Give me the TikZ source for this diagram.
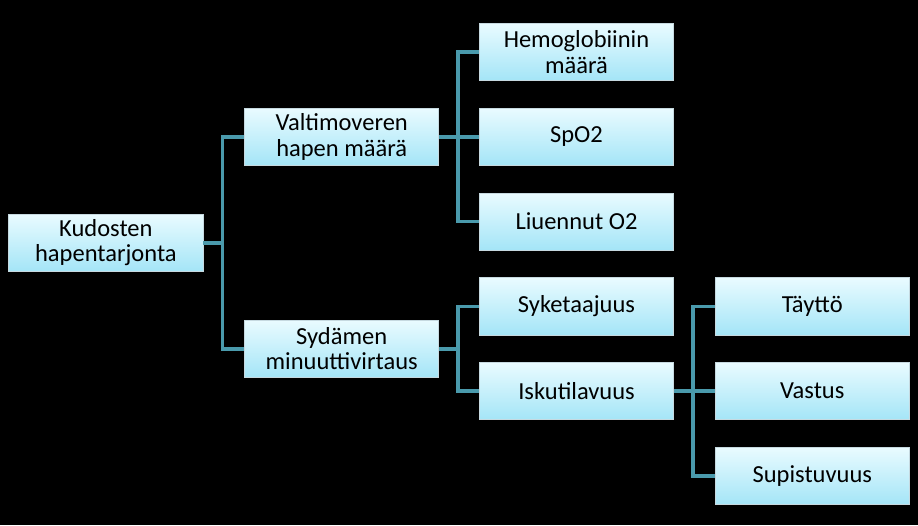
\documentclass[tikz,border=0pt]{standalone}
\usepackage{fontspec}
\setmainfont{Carlito}
\usepackage{xcolor}
\usetikzlibrary{positioning,calc}
\definecolor{boxtop}{HTML}{E9FBFF}
\definecolor{boxbot}{HTML}{A4E5F7}
\definecolor{boxline}{HTML}{C6D9E0}
\definecolor{linkcol}{HTML}{4A9AAC}

\begin{document}
\begin{tikzpicture}[
  x=1pt,y=1pt,
  node distance=26.8pt and 39.8pt,
  box/.style={draw=boxline,line width=0.8pt,top color=boxtop,bottom color=boxbot,
    minimum width=194.2pt,minimum height=57.2pt,inner sep=2pt,align=center,
    font=\fontsize{24.5}{25.5}\selectfont},
  link/.style={draw=linkcol,line width=3.6pt}
]
  \fill[black] (0,0) rectangle (918,-525);
  \useasboundingbox (0,0) rectangle (918,-525);
  % middle column
  \node[box] (hemo) at (576.5,-52) {Hemoglobiinin\\määrä};
  \node[box,below=of hemo] (spo) {SpO2};
  \node[box,below=of spo] (liu) {Liuennut O2};
  \node[box,below=of liu] (syke) {Syketaajuus};
  \node[box,below=of syke] (isku) {Iskutilavuus};
  % left columns
  \node[box,left=of spo] (valt) {Valtimoveren\\hapen määrä};
  \node[box,left=of $(syke.west)!0.5!(isku.west)$] (syd) {Sydämen\\minuuttivirtaus};
  \node[box,left=40.8pt of $(valt.west)!0.5!(syd.west)$] (kud) {Kudosten\\hapentarjonta};
  % right column
  \node[box,right=40.8pt of syke] (tayt) {Täyttö};
  \node[box,right=40.8pt of isku] (vast) {Vastus};
  \node[box,below=of vast] (supi) {Supistuvuus};
  % connectors
  \draw[link] (kud.east) -- ++(19,0) coordinate (j1) |- (valt.west);
  \draw[link] (j1) |- (syd.west);
  \draw[link] (valt.east) -- ++(19,0) coordinate (j2) |- (hemo.west);
  \draw[link] (j2) |- (liu.west);
  \draw[link] (valt.east) -- (spo.west);
  \draw[link] (syd.east) -- ++(19,0) coordinate (j3) |- (syke.west);
  \draw[link] (j3) |- (isku.west);
  \draw[link] (isku.east) -- ++(19,0) coordinate (j4) |- (tayt.west);
  \draw[link] (j4) |- (supi.west);
  \draw[link] (isku.east) -- (vast.west);
\end{tikzpicture}
\end{document}
